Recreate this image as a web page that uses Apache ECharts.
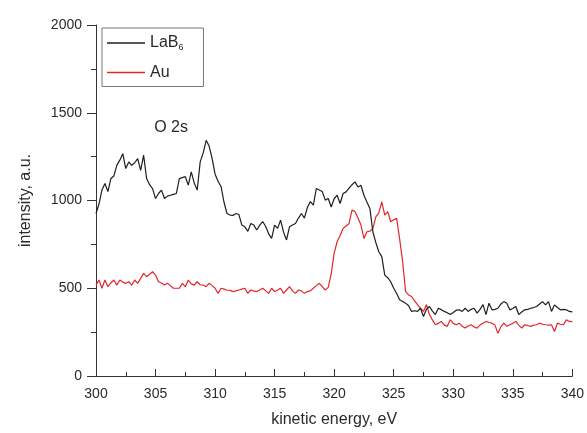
<!DOCTYPE html>
<html>
<head>
<meta charset="utf-8">
<title>Kinetic energy spectra</title>
<script src="https://cdn.jsdelivr.net/npm/echarts@6/dist/echarts.min.js"></script>
<style>
  html, body { margin: 0; padding: 0; background: #fff; }
  #chart { width: 587px; height: 433px; }
</style>
</head>
<body>
<div id="chart"></div>
<script>
// Energy grid of the scans (eV): start and step
const energyStart = 300;
const energyStep = 0.25;

// Axis ranges and tick spacing
const xMin = 300, xMax = 340, xInterval = 5;
const yMin = 0, yMax = 2000, yInterval = 500;

// Measured intensities (a.u.), one value per grid point
const lab6Intensity = [
  926, 980, 1060, 1097, 1051, 1125, 1140, 1200, 1230, 1267,
  1182, 1220, 1200, 1215, 1239, 1172, 1258, 1125, 1090, 1068,
  1011, 1040, 1059, 1011, 1025, 1030, 1035, 1040, 1125, 1130,
  1136, 1087, 1163, 1100, 1059, 1220, 1270, 1343, 1310, 1240,
  1150, 1110, 1080, 990, 926, 917, 915, 926, 920, 860,
  850, 824, 869, 860, 832, 860, 880, 852, 810, 784,
  860, 841, 888, 820, 775, 850, 860, 869, 900, 926,
  900, 960, 994, 973, 1068, 1060, 1051, 1002, 1011, 963,
  1010, 1030, 983, 1040, 1049, 1070, 1090, 1106, 1077, 1087,
  1030, 992, 955, 822, 760, 708, 680, 575, 560, 537,
  500, 470, 434, 425, 415, 400, 368, 372, 368, 386,
  339, 380, 396, 370, 350, 386, 378, 368, 360, 350,
  362, 375, 377, 368, 386, 368, 380, 386, 358, 380,
  407, 350, 415, 377, 380, 386, 410, 424, 415, 377,
  385, 396, 350, 365, 377, 380, 386, 390, 396, 410,
  424, 405, 424, 368, 405, 390, 377, 380, 377, 368,
  365
];

const auIntensity = [
  518, 547, 500, 547, 509, 530, 547, 518, 547, 535,
  528, 537, 518, 547, 528, 556, 585, 566, 580, 594,
  575, 537, 530, 518, 528, 515, 500, 500, 500, 528,
  509, 547, 525, 518, 537, 520, 518, 509, 528, 515,
  500, 471, 500, 495, 490, 488, 481, 485, 490, 495,
  500, 471, 490, 485, 481, 490, 500, 485, 471, 500,
  481, 490, 500, 471, 490, 509, 485, 471, 490, 485,
  471, 481, 485, 500, 515, 528, 509, 490, 505, 580,
  700, 765, 800, 841, 855, 869, 945, 937, 900, 860,
  784, 822, 825, 840, 907, 930, 992, 917, 937, 879,
  890, 898, 780, 652, 481, 462, 453, 430, 407, 386,
  368, 407, 350, 320, 292, 300, 311, 290, 283, 320,
  300, 292, 301, 283, 273, 285, 292, 280, 273, 290,
  301, 311, 305, 301, 290, 244, 280, 301, 283, 292,
  300, 311, 290, 273, 292, 288, 283, 290, 292, 301,
  295, 292, 290, 292, 254, 301, 295, 292, 320, 311,
  310
];

// Peak annotation: label text and its anchor in data space
const annotationText = 'O 2s';
const annotationAt = [306.3, 1415];

const seriesNames = ['LaB6', 'Au'];
const seriesColors = ['#1e1e1e', '#e3262c'];

function toPairs(values) {
  return values.map((v, i) => [energyStart + i * energyStep, v]);
}

const textColor = '#2a2a2a';
const fontFamily = '"Liberation Sans", Arial, sans-serif';

const chart = echarts.init(document.getElementById('chart'), null, { renderer: 'canvas' });

chart.setOption({
  animation: false,
  backgroundColor: '#fff',
  textStyle: { fontFamily: fontFamily, color: textColor },
  grid: { left: 96, right: 13, top: 25, bottom: 55, containLabel: false },
  legend: {
    orient: 'vertical',
    left: 102,
    top: 28,
    padding: [7, 20, 6, 5],
    itemGap: 12,
    itemWidth: 38,
    itemHeight: 1.5,
    icon: 'rect',
    borderColor: '#777',
    borderWidth: 1,
    data: seriesNames,
    formatter: function (name) {
      return name === 'LaB6' ? '{m|LaB}{s|6}' : '{m|' + name + '}';
    },
    textStyle: {
      color: textColor,
      fontFamily: fontFamily,
      rich: {
        m: { fontSize: 16, fontFamily: fontFamily, color: textColor },
        s: { fontSize: 9, fontFamily: fontFamily, color: textColor, padding: [10, 0, 0, 0] }
      }
    }
  },
  xAxis: {
    type: 'value',
    min: xMin,
    max: xMax,
    interval: xInterval,
    name: 'kinetic energy, eV',
    nameLocation: 'middle',
    nameGap: 36,
    nameTextStyle: { fontSize: 16, color: textColor, fontFamily: fontFamily },
    axisLine: { show: true, lineStyle: { color: '#333', width: 1 } },
    axisTick: { show: true, inside: true, length: 7, lineStyle: { color: '#333' } },
    minorTick: { show: true, splitNumber: 2, length: 4, lineStyle: { color: '#333' } },
    axisLabel: { margin: 11, fontSize: 14, color: textColor, fontFamily: fontFamily },
    splitLine: { show: false }
  },
  yAxis: {
    type: 'value',
    min: yMin,
    max: yMax,
    interval: yInterval,
    name: 'intensity, a.u.',
    nameLocation: 'middle',
    nameGap: 62,
    nameTextStyle: { fontSize: 16, color: textColor, fontFamily: fontFamily },
    axisLine: { show: true, lineStyle: { color: '#333', width: 1 } },
    axisTick: { show: true, inside: false, length: 9, lineStyle: { color: '#333' } },
    minorTick: { show: true, splitNumber: 2, length: 5, lineStyle: { color: '#333' } },
    axisLabel: {
      margin: 14,
      fontSize: 14,
      color: textColor,
      fontFamily: fontFamily,
      formatter: function (v) { return String(v); }
    },
    splitLine: { show: false }
  },
  series: [
    {
      name: seriesNames[0],
      type: 'line',
      data: toPairs(lab6Intensity),
      showSymbol: false,
      symbol: 'none',
      color: seriesColors[0],
      lineStyle: { color: seriesColors[0], width: 1.2 },
      z: 3,
      markPoint: {
        symbol: 'circle',
        symbolSize: 0,
        silent: true,
        data: [{ coord: annotationAt, value: annotationText }],
        label: {
          show: true,
          position: 'inside',
          formatter: annotationText,
          fontSize: 16,
          color: textColor,
          fontFamily: fontFamily
        }
      }
    },
    {
      name: seriesNames[1],
      type: 'line',
      data: toPairs(auIntensity),
      showSymbol: false,
      symbol: 'none',
      color: seriesColors[1],
      lineStyle: { color: seriesColors[1], width: 1.2 },
      z: 2
    }
  ]
});
</script>
</body>
</html>
